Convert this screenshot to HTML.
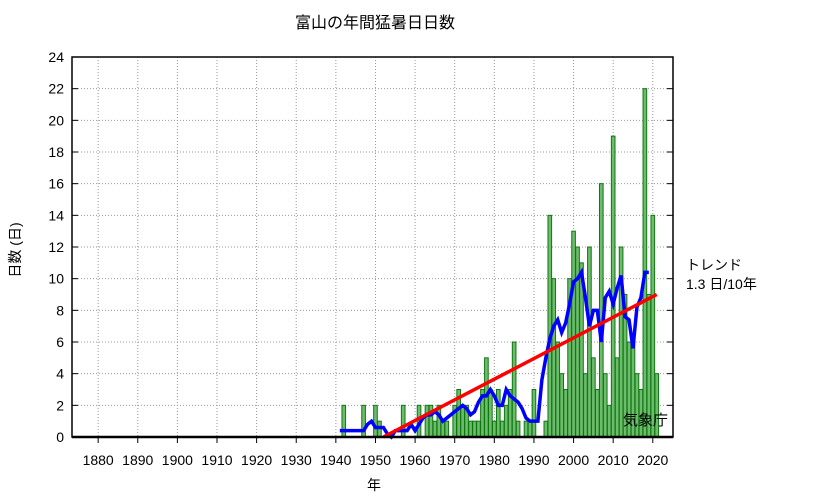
<!DOCTYPE html>
<html><head><meta charset="utf-8"><style>
body{margin:0;background:#fff}
svg text{font-family:"Liberation Sans","Noto Sans CJK JP",sans-serif;fill:#000}
</style></head><body>
<svg id="c" width="833" height="498" xmlns="http://www.w3.org/2000/svg">
<text x="375" y="28" font-size="16" text-anchor="middle">富山の年間猛暑日日数</text>
<text transform="translate(20,250) rotate(-90)" font-size="14" text-anchor="middle">日数 (日)</text>
<text x="374" y="490" font-size="14" text-anchor="middle">年</text>
<text x="686" y="270" font-size="14">トレンド</text>
<text x="686" y="289" font-size="14">1.3 日/10年</text>
<g id="grid"></g><g id="bars"></g><g id="lines"></g><g id="axes"></g>
<text x="668" y="425" font-size="15" text-anchor="end">気象庁</text>
</svg>
<script>
const years=[];for(let y=1939;y<=2021;y++)years.push(y);
const counts=[0,0,0,2,0,0,0,0,2,0,0,2,1,0,0,0,0,0,2,0,0,0,2,0,2,2,1,2,1,1,0,2,3,2,2,1,1,1,3,5,3,1,3,1,2,3,6,1,0,1,1,3,0,0,1,14,10,6,4,3,10,13,12,11,4,12,5,3,16,4,2,19,5,12,9,6,6,4,3,22,9,14,4];
const yTicks=[0,2,4,6,8,10,12,14,16,18,20,22,24];
const xTicks=[1880,1890,1900,1910,1920,1930,1940,1950,1960,1970,1980,1990,2000,2010,2020];
const trendYears=[1952,2021];
const trendValues=[0,9];
const L=72,R=673,T=57,B=437,X0=1873.4,X1=2025.1,Y1=24;
const sx=v=>L+(v-X0)/(X1-X0)*(R-L), sy=v=>B-v/Y1*(B-T);
const NS='http://www.w3.org/2000/svg';
function mk(tag,parent,at){const e=document.createElementNS(NS,tag);for(const k in at)e.setAttribute(k,at[k]);document.getElementById(parent).appendChild(e);return e;}
yTicks.forEach(v=>{
 const g=mk('line','grid',{x1:L,x2:R,y1:sy(v),y2:sy(v),stroke:'#999','stroke-dasharray':'1,2'});
 
 
 const t=mk('text','axes',{x:L-8,y:sy(v)+5,'font-size':14,'text-anchor':'end'});t.textContent=v;
 
 
 mk('line','axes',{x1:L,x2:L+6,y1:sy(v),y2:sy(v),stroke:'#000'});
 mk('line','axes',{x1:R,x2:R-6,y1:sy(v),y2:sy(v),stroke:'#000'});
});
xTicks.forEach(v=>{
 const g=mk('line','grid',{x1:sx(v),x2:sx(v),y1:T,y2:B,stroke:'#999','stroke-dasharray':'1,2'});
 
 
 mk('line','axes',{x1:sx(v),x2:sx(v),y1:B,y2:B+6,stroke:'#000'});
 const t=mk('text','axes',{x:sx(v),y:B+28,'font-size':14,'text-anchor':'middle'});t.textContent=v;
 
 
});
const bw=(sx(1)-sx(0))*0.92;
years.forEach((y,i)=>{if(!counts[i])return;
 const b=mk('rect','bars',{x:sx(y)-bw/2,y:sy(counts[i]),width:bw,height:B-sy(counts[i]),fill:'#6dbb6d',stroke:'#117711','stroke-width':1});
 
 
});
let pts=[];
for(let i=2;i<years.length-2;i++){let s=0;for(let k=-2;k<=2;k++)s+=counts[i+k];pts.push(sx(years[i])+','+sy(s/5));}
const ma=mk('polyline','lines',{points:pts.join(' '),fill:'none',stroke:'#0000ff','stroke-width':3.5});


const tr=mk('line','lines',{x1:sx(trendYears[0]),y1:sy(trendValues[0]),x2:sx(trendYears[1]),y2:sy(trendValues[1]),stroke:'#ff0000','stroke-width':3.5});


const fr=mk('rect','axes',{x:L,y:T,width:R-L,height:B-T,fill:'none',stroke:'#000','stroke-width':1.5});


mk('line','axes',{x1:L,x2:R,y1:B,y2:B,stroke:'#000','stroke-width':2.5});
</script>
</body></html>
